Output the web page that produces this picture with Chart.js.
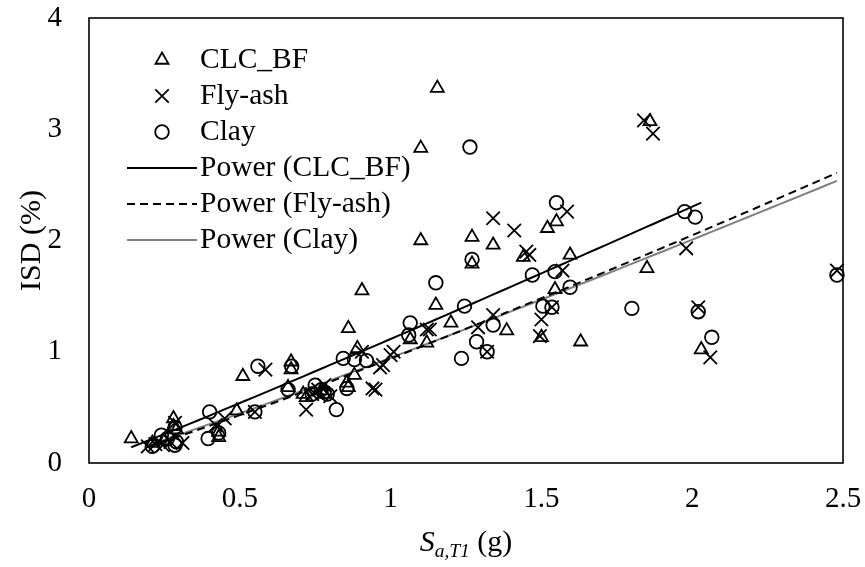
<!DOCTYPE html>
<html>
<head>
<meta charset="utf-8">
<script src="https://cdn.jsdelivr.net/npm/chart.js@4/dist/chart.umd.min.js"></script>
<style>
  html, body { margin: 0; padding: 0; background: #fff; }
  #wrap { width: 865px; height: 567px; position: relative; }
</style>
</head>
<body>
<div id="wrap"><canvas id="c"></canvas></div>
<script>
// Spectral acceleration Sa,T1 (g) and inter-storey drift ISD (%) per infill type
const clcX = [0.14,0.21,0.25,0.28,0.28,0.29,0.43,0.43,0.49,0.51,0.66,0.67,0.67,0.71,0.72,0.77,0.78,0.86,0.855,0.86,0.88,0.89,0.905,1.065,1.10,1.10,1.12,1.15,1.155,1.20,1.27,1.27,1.34,1.385,1.44,1.50,1.52,1.545,1.55,1.595,1.63,1.85,1.86,2.03];
const clcY = [0.22,0.18,0.20,0.40,0.33,0.30,0.23,0.28,0.47,0.78,0.68,0.91,0.84,0.62,0.59,0.65,0.62,0.68,0.72,1.21,0.79,1.03,1.55,1.11,2.00,2.83,1.08,1.42,3.37,1.26,2.03,1.79,1.96,1.19,1.85,1.13,2.11,1.56,2.17,1.87,1.09,1.75,3.07,1.02];

const flyX = [0.195,0.22,0.245,0.27,0.285,0.31,0.42,0.45,0.55,0.585,0.72,0.74,0.76,0.78,0.80,0.905,0.94,0.95,0.965,0.975,1.00,1.01,1.12,1.13,1.29,1.32,1.34,1.34,1.41,1.45,1.46,1.495,1.50,1.535,1.57,1.585,1.84,1.87,1.98,2.02,2.06,2.48];
const flyY = [0.15,0.17,0.16,0.19,0.36,0.18,0.34,0.40,0.46,0.84,0.48,0.62,0.66,0.70,0.60,1.00,0.67,0.66,0.86,0.88,0.97,1.00,1.20,1.20,1.22,1.00,1.33,2.20,2.09,1.90,1.87,1.14,1.29,1.40,1.73,2.26,3.08,2.96,1.93,1.40,0.95,1.73];

const clayX = [0.21,0.24,0.26,0.285,0.285,0.29,0.395,0.40,0.43,0.55,0.56,0.66,0.672,0.74,0.75,0.77,0.78,0.79,0.82,0.843,0.855,0.88,0.92,1.06,1.065,1.15,1.235,1.245,1.263,1.27,1.285,1.32,1.34,1.47,1.505,1.535,1.545,1.55,1.595,1.80,1.975,2.01,2.02,2.065,2.48];
const clayY = [0.15,0.25,0.22,0.16,0.32,0.19,0.22,0.46,0.27,0.46,0.87,0.66,0.87,0.62,0.70,0.66,0.64,0.62,0.48,0.94,0.67,0.93,0.92,1.15,1.26,1.62,0.94,1.41,2.84,1.83,1.09,1.00,1.24,1.69,1.41,1.40,1.72,2.34,1.58,1.39,2.26,2.21,1.36,1.13,1.69];

const seriesNames = ['CLC_BF', 'Fly-ash', 'Clay'];
const trendNames = ['Power (CLC_BF)', 'Power (Fly-ash)', 'Power (Clay)'];
const xTicks = [0, 0.5, 1, 1.5, 2, 2.5];
const yTicks = [0, 1, 2, 3, 4];

const FONT = '"Liberation Serif", "Times New Roman", serif';

function pairs(xs, ys) { return xs.map((x, i) => ({ x, y: ys[i] })); }

// Least-squares power trend y = a*x^b (fitted in log-log space), drawn over the data range
function powerTrend(xs, ys, steps) {
  const n = xs.length;
  let sx = 0, sy = 0, sxx = 0, sxy = 0;
  for (let i = 0; i < n; i++) {
    const lx = Math.log(xs[i]), ly = Math.log(ys[i]);
    sx += lx; sy += ly; sxx += lx * lx; sxy += lx * ly;
  }
  const b = (n * sxy - sx * sy) / (n * sxx - sx * sx);
  const a = Math.exp((sy - b * sx) / n);
  const lo = Math.min(...xs), hi = Math.max(...xs);
  const pts = [];
  for (let i = 0; i <= steps; i++) {
    const x = lo + (hi - lo) * i / steps;
    pts.push({ x, y: a * Math.pow(x, b) });
  }
  return pts;
}

const markerBase = { showLine: false, borderColor: '#000', backgroundColor: 'rgba(0,0,0,0)', borderWidth: 1.8, clip: false };
const trendBase = { showLine: true, pointRadius: 0, pointHoverRadius: 0, fill: false, tension: 0 };

const datasets = [
  Object.assign({ label: seriesNames[0], data: pairs(clcX, clcY), pointStyle: 'triangle', pointRadius: 7.5 }, markerBase),
  Object.assign({ label: seriesNames[1], data: pairs(flyX, flyY), pointStyle: 'crossRot', pointRadius: 9.5 }, markerBase),
  Object.assign({ label: seriesNames[2], data: pairs(clayX, clayY), pointStyle: 'circle', pointRadius: 6.8 }, markerBase),
  Object.assign({ label: trendNames[0], data: powerTrend(clcX, clcY, 60), borderColor: '#000', borderWidth: 2 }, trendBase),
  Object.assign({ label: trendNames[1], data: powerTrend(flyX, flyY, 60), borderColor: '#000', borderWidth: 2, borderDash: [8, 5] }, trendBase),
  Object.assign({ label: trendNames[2], data: powerTrend(clayX, clayY, 60), borderColor: '#808080', borderWidth: 2 }, trendBase)
];

// Frame, in-plot legend and axis titles
const decor = {
  id: 'decor',
  afterDraw(chart) {
    const ctx = chart.ctx;
    const ca = chart.chartArea;
    ctx.save();
    // plot frame
    ctx.strokeStyle = '#000';
    ctx.lineWidth = 1.6;
    ctx.strokeRect(ca.left, ca.top, ca.right - ca.left, ca.bottom - ca.top);

    // legend
    const rowY0 = 60, rowGap = 36, markX = 162, lineX0 = 127, lineX1 = 197, textX = 200;
    ctx.textBaseline = 'middle';
    ctx.textAlign = 'left';
    chart.data.datasets.forEach((ds, i) => {
      const y = rowY0 + rowGap * i;
      ctx.save();
      ctx.strokeStyle = ds.borderColor;
      ctx.lineWidth = ds.borderWidth;
      ctx.setLineDash(ds.borderDash || []);
      ctx.beginPath();
      if (ds.showLine) {
        ctx.moveTo(lineX0, y);
        ctx.lineTo(lineX1, y);
      } else {
        const r = ds.pointRadius;
        if (ds.pointStyle === 'circle') {
          ctx.arc(markX, y, r, 0, Math.PI * 2);
        } else if (ds.pointStyle === 'triangle') {
          for (let k = 0; k < 3; k++) {
            const a = k * 2 * Math.PI / 3;
            const px = markX + Math.sin(a) * r, py = y - Math.cos(a) * r;
            if (k === 0) ctx.moveTo(px, py); else ctx.lineTo(px, py);
          }
          ctx.closePath();
        } else {
          const o = r * Math.SQRT1_2;
          ctx.moveTo(markX - o, y - o); ctx.lineTo(markX + o, y + o);
          ctx.moveTo(markX + o, y - o); ctx.lineTo(markX - o, y + o);
        }
      }
      ctx.stroke();
      ctx.restore();
      ctx.font = '29.5px ' + FONT;
      ctx.fillStyle = '#000';
      ctx.fillText(ds.label, textX, y);
    });

    // y-axis title
    ctx.save();
    ctx.translate(32, (ca.top + ca.bottom) / 2);
    ctx.rotate(-Math.PI / 2);
    ctx.textAlign = 'center';
    ctx.textBaseline = 'middle';
    ctx.font = '30px ' + FONT;
    ctx.fillText('ISD (%)', 0, 0);
    ctx.restore();

    // x-axis title: italic S with italic subscript a,T1, then (g)
    const parts = [
      { t: 'S', f: 'italic 30px ' + FONT, dy: 0 },
      { t: 'a,T1', f: 'italic 19.5px ' + FONT, dy: 6 },
      { t: ' (g)', f: '30px ' + FONT, dy: 0 }
    ];
    let total = 0;
    parts.forEach(p => { ctx.font = p.f; p.w = ctx.measureText(p.t).width; total += p.w; });
    let x = (ca.left + ca.right) / 2 - total / 2;
    const base = 551;
    ctx.textAlign = 'left';
    ctx.textBaseline = 'alphabetic';
    ctx.fillStyle = '#000';
    parts.forEach(p => { ctx.font = p.f; ctx.fillText(p.t, x, base + p.dy); x += p.w; });
    ctx.restore();
  }
};

new Chart(document.getElementById('c'), {
  type: 'scatter',
  data: { datasets },
  options: {
    responsive: true,
    maintainAspectRatio: false,
    animation: false,
    layout: { padding: { left: 0, top: 18, right: 22, bottom: 0 } },
    plugins: { legend: { display: false }, tooltip: { enabled: false } },
    scales: {
      x: {
        type: 'linear', min: 0, max: 2.5,
        afterBuildTicks: s => { s.ticks = xTicks.map(v => ({ value: v })); },
        afterFit: s => { s.height = 104; s.paddingLeft = 0; s.paddingRight = 0; },
        grid: { display: false, drawTicks: false },
        border: { display: false },
        ticks: { color: '#000', padding: 19, font: { family: FONT, size: 29 }, callback: v => String(v) }
      },
      y: {
        type: 'linear', min: 0, max: 4,
        afterBuildTicks: s => { s.ticks = yTicks.map(v => ({ value: v })); },
        afterFit: s => { s.width = 89; s.paddingTop = 0; s.paddingBottom = 0; },
        grid: { display: false, drawTicks: false },
        border: { display: false },
        ticks: { color: '#000', padding: 27, font: { family: FONT, size: 29 }, callback: v => String(v) }
      }
    }
  },
  plugins: [decor]
});
</script>
</body>
</html>
